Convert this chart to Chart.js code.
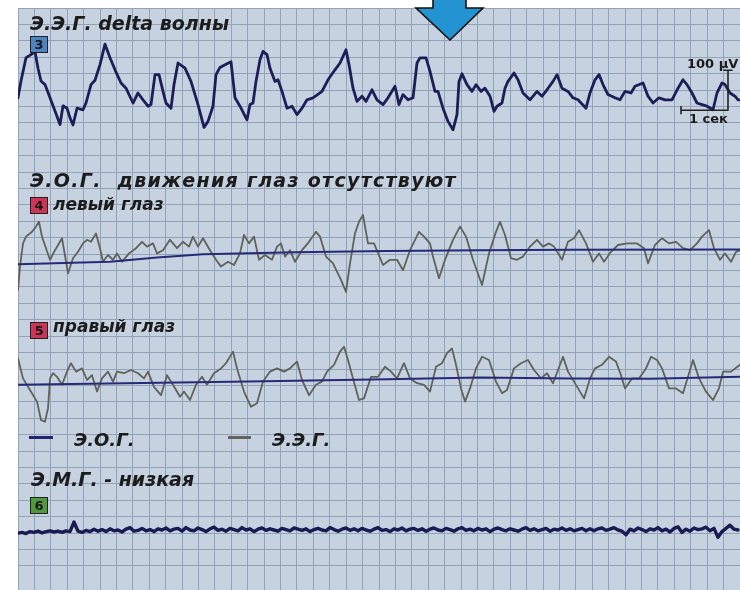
<!DOCTYPE html>
<html>
<head>
<meta charset="utf-8">
<script src="https://cdn.jsdelivr.net/npm/chart.js@4.4.1/dist/chart.umd.min.js"></script>
<style>
  html, body { margin: 0; padding: 0; background: #fff; }
  #wrap { position: relative; width: 740px; height: 590px; overflow: hidden; }
  #wrap canvas { position: absolute; left: 0; top: 0; }
  .lbl { position: absolute; font-family: "DejaVu Sans", sans-serif; font-weight: bold; font-style: italic;
         color: #1c1c1c; white-space: pre; line-height: 1; }
  .h { font-size: 19px; }
  .l { font-size: 18px; }
  .s { font-size: 17px; }
  .box { position: absolute; width: 16px; height: 15px; border: 1px solid #222; text-align: center;
         font: bold 13px "DejaVu Sans", sans-serif; line-height: 15px; color: #1a1a1a; }
  .sw { position: absolute; height: 3px; }
  .sc { position: absolute; font: bold 13px "DejaVu Sans", sans-serif; color: #1c1c1c; line-height: 1; white-space: pre; }
</style>
</head>
<body>
<div id="wrap">
  <canvas id="eeg" width="740" height="590"></canvas>

  <div class="lbl h" style="left:30px; top:14px">Э.Э.Г. delta волны</div>
  <div class="box" style="left:30px; top:36px; background:#4d84c4">3</div>

  <div class="lbl h" style="left:30px; top:171px; letter-spacing:1.3px">Э.О.Г.  движения глаз отсутствуют</div>
  <div class="box" style="left:30px; top:197px; background:#cc3555">4</div>
  <div class="lbl s" style="left:53px; top:196px">левый глаз</div>

  <div class="box" style="left:30px; top:322px; background:#cc3555">5</div>
  <div class="lbl s" style="left:53px; top:318px">правый глаз</div>

  <div class="sw" style="left:29px; top:436px; width:24px; background:#22256e"></div>
  <div class="lbl l" style="left:74px; top:431px">Э.О.Г.</div>
  <div class="sw" style="left:228px; top:436px; width:23px; background:#60645c"></div>
  <div class="lbl l" style="left:272px; top:431px">Э.Э.Г.</div>

  <div class="lbl h" style="left:31px; top:470px">Э.М.Г. - низкая</div>
  <div class="box" style="left:30px; top:497px; background:#4e9a3c">6</div>

  <div class="sc" style="left:687px; top:57px">100 µV</div>
  <div class="sc" style="left:689px; top:112px">1 сек</div>
</div>

<script>
// отсчёты при 47 Гц по оси X, мкВ по оси Y
const RATE = 47;
const TOTAL_N = 722;

// Э.Э.Г. (канал 3)
const eegT = [0,3,8,13,17, 20,23,27,32,37, 42,45,49,52,55, 59,65,68,73,77, 82,87,92,97,103,
  108,115,120,125,130, 133,137,141,145,148, 153,156,160,167,173, 180,186,190,195,198,
  202,208,213,217,222, 229,232,235,238,242, 245,249,252,257,260, 264,269,274,279,284,
  289,295,304,310,317, 322,328,331,335,339, 344,348,354,359,365, 370,377,381,385,390,
  395,399,402,408,412, 417,420,425,430,435, 439,441,444,449,454, 458,463,467,472,476,
  479,484,487,490,496, 500,505,512,519,524, 529,535,539,544,550, 555,560,568,572,577,
  581,585,590,597,602, 607,613,617,625,630, 635,641,647,654,660, 665,669,674,679,684,
  689,695,699,704,707, 712,717,720,722];
const eegV = [-12,30,88,96,104, 62,30,21,-12,-45, -79,-32,-38,-62,-80, -38,-42,-25,21,32, 71,122,88,58,25,
  12,-25,0,-17,-33, -29,46,46,4,-25, -38,21,75,62,29, -29,-86,-71,-33,46,
  64,72,78,-12,-33, -67,-29,-25,29,83, 104,96,62,29,33, 4,-38,-33,-54,-38,
  -17,-12,4,33,58, 75,108,71,12,-21, -8,-21,8,-17,-29, -12,17,-29,-4,-17,
  -12,75,88,88,54, 4,4,-38,-71,-92, -54,29,48,21,4, 21,4,12,-8,-46,
  -33,-25,12,29,50, 33,0,-17,4,-8, 8,29,46,12,4, -12,-17,-38,0,33,
  46,21,-4,-12,-17, 4,0,17,25,-8, -25,-12,-17,-17,12, 33,21,0,-25,-29,
  -33,-42,0,25,21, 0,-8,-17,-17];

// Э.О.Г. левый глаз (канал 4)
const eogLT = [0,2,5,8,14,18,21,24,28,32, 37,44,50,55,60,65,69,73,78,82,
  85,90,95,99,104,111,118,124,129,135, 139,145,152,159,165,171,175,180,185,192,
  198,203,210,216,222,226,231,236,241,247, 254,259,263,267,272,277,284,291,298,302,
  308,315,323,328,332,337,341,345,350,356, 365,372,379,385,392,401,406,412,415,421,
  427,435,442,448,455,464,471,478,482,487, 493,499,505,512,519,525,531,536,544,550,
  556,561,568,575,581,586,593,600,609,619, 626,630,637,644,651,658,665,672,679,684,
  691,696,702,707,713,718,722];
const eogLV = [-88,-29,29,46,58,71,83,46,17,-12, 12,42,-46,-8,8,29,38,33,54,17,
  -17,0,-12,4,-17,4,17,33,21,29, 4,12,38,17,33,21,46,21,42,12,
  -12,-29,-17,-25,4,50,29,46,-12,0, -12,21,29,-4,12,-17,12,33,58,46,
  -4,-21,-62,-92,-21,54,83,100,29,29, -25,-12,-12,-38,12,58,46,29,-4,-58,
  -12,38,71,46,-12,-75,4,58,83,50, -8,-12,-4,21,38,21,29,21,-12,33,
  42,62,29,-17,4,-17,8,25,29,29, 17,-21,25,42,29,33,17,12,29,46,
  62,17,-12,4,-17,8,12];
const eogLBaseT = [0,92,139,185,277,369,462,554,722];
const eogLBaseV = [-23,-17,-6,2,7,10,12,13,14];

// Э.О.Г. правый глаз (канал 5)
const eogRT = [0,5,12,19,23,27,30,32,35,39, 44,49,53,58,64,69,74,79,84,90,
  95,99,106,113,120,126,130,136,143,149, 155,162,166,172,178,184,189,196,203,208,
  215,219,226,233,239,245,252,259,266,272, 279,284,291,298,304,309,316,322,326,330,
  335,341,346,353,360,367,373,379,386,392, 399,406,412,418,424,429,434,438,443,447,
  452,458,464,471,478,484,489,496,503,510, 516,523,529,535,540,545,550,556,566,572,
  577,584,591,598,603,607,614,621,628,633, 639,644,651,658,665,670,675,681,688,695,
  701,705,713,722];
const eogRV = [54,4,-25,-54,-100,-104,-71,4,17,8, -12,21,42,21,29,0,12,-29,4,21,
  -4,21,17,25,17,4,21,-17,-38,12, -12,-42,-29,-50,-12,8,-12,17,29,42,
  71,29,-29,-67,-58,-4,21,29,21,29, 46,0,-38,-12,-4,21,38,71,83,50,
  4,-50,-46,8,8,33,21,4,42,4, -8,-12,-29,33,42,67,79,38,-21,-54,
  -21,29,58,50,-4,-33,-25,29,42,50, 25,4,17,-8,25,58,21,-4,-46,4,
  29,38,58,46,12,-21,4,4,29,58, 50,29,-21,-21,-33,8,50,4,-29,-50,
  -21,21,21,38];
const eogRBaseT = [0,231,369,462,554,632,722];
const eogRBaseV = [-12,-4,2,6,4,3,8];

// Э.М.Г. (канал 6), шаг 4 отсчёта
const EMG_STEP = 4;
const emgV = [-8,-6,-9,-4,-6,-3,-7,-4,-2,-5, -3,-6,-2,-4,20,-3,-6,-1,-4,2,
  -3,1,-4,3,-2,0,-5,2,6,-3, -1,4,-2,1,-4,3,0,5,-2,2,
  4,-3,6,0,-2,5,1,-4,3,7, -1,2,-3,4,1,-2,6,0,3,-4,
  2,5,-1,3,0,-3,4,1,-2,5, 2,-1,3,-4,1,4,0,-2,6,1,
  -3,2,5,-1,3,-2,4,0,-3,2, 6,-1,1,-4,3,0,5,-2,2,4,
  -1,3,-3,2,5,0,-2,4,1,-3, 3,6,-1,2,-2,4,0,3,-4,2,
  5,1,-2,3,0,-3,2,6,-1,3, -2,1,4,-3,2,0,5,-1,3,-2,
  1,4,-2,3,-2,3,5,-1,2,6, 0,-3,-12,2,-2,5,1,-4,3,0,
  6,-2,2,-5,4,8,-6,2,-3,5, 1,3,7,-2,4,-18,-4,4,12,2,0];

// масштаб: 1 сек, 100 мкВ
const SCALE_SEC = 1;
const SCALE_UV = 100;

// раскладка каналов на общей оси (мкВ от верхнего края)
const UV_PER_PX = 2.5;
const Y_MIN = -582 * UV_PER_PX;
const OFF_EEG = -212.5, OFF_EOGL = -617.5, OFF_EOGR = -930, OFF_EMG = -1305;
const SCALE_AT = { t: 663, v: -43 };
const ARROW_AT = 432;
const GRID_COLS = 44;
const GRID_ROWS = 582 / (722 / GRID_COLS);

const NAVY = '#1c1e58';
const GRAY = '#5e625a';
const GRID = '#92a2b8';

function pts(ts, vs, off) {
  return ts.map((t, i) => ({ x: t, y: vs[i] + off }));
}

const emgPts = emgV.map((v, i) => ({ x: Math.min(i * EMG_STEP, TOTAL_N), y: v + OFF_EMG }));

const sT = SCALE_AT.t, sV = SCALE_AT.v + OFF_EEG, sW = SCALE_SEC * RATE, sH = SCALE_UV;
const scalePts = [
  { x: sT, y: sV - 9 }, { x: sT, y: sV + 9 }, { x: sT, y: null },
  { x: sT, y: sV }, { x: sT + sW, y: sV }, { x: sT + sW, y: sV + sH }, { x: sT + sW, y: null },
  { x: sT + sW - 4, y: sV + sH }, { x: sT + sW + 4, y: sV + sH },
];

const line = (data, color, width, order) => ({
  data, borderColor: color, borderWidth: width, pointRadius: 0, tension: 0,
  fill: false, order, spanGaps: false, borderJoinStyle: 'round', borderCapStyle: 'round',
});

const bgPlugin = {
  id: 'bg',
  beforeDraw(chart) {
    const { ctx, chartArea: a } = chart;
    ctx.save();
    ctx.fillStyle = '#c6d2df';
    ctx.fillRect(a.left, a.top, a.right - a.left, a.bottom - a.top);
    ctx.restore();
  }
};

const arrowPlugin = {
  id: 'arrow',
  afterDraw(chart) {
    const ctx = chart.ctx;
    const cx = chart.scales.x.getPixelForValue(ARROW_AT);
    ctx.save();
    ctx.beginPath();
    ctx.moveTo(cx - 17, -2);
    ctx.lineTo(cx + 16, -2);
    ctx.lineTo(cx + 16, 8);
    ctx.lineTo(cx + 33, 8);
    ctx.lineTo(cx, 40);
    ctx.lineTo(cx - 34, 8);
    ctx.lineTo(cx - 17, 8);
    ctx.closePath();
    ctx.fillStyle = '#2393d1';
    ctx.fill();
    ctx.lineWidth = 1.6;
    ctx.strokeStyle = '#111';
    ctx.stroke();
    ctx.restore();
  }
};

new Chart(document.getElementById('eeg'), {
  type: 'line',
  data: {
    datasets: [
      line(pts(eegT, eegV, OFF_EEG), NAVY, 2.8, 1),
      line(pts(eogLBaseT, eogLBaseV, OFF_EOGL), '#262a78', 2, 0),
      line(pts(eogLT, eogLV, OFF_EOGL), GRAY, 1.8, 2),
      line(pts(eogRBaseT, eogRBaseV, OFF_EOGR), '#262a78', 2, 0),
      line(pts(eogRT, eogRV, OFF_EOGR), GRAY, 1.8, 2),
      line(emgPts, '#1a1b52', 3.4, 1),
      line(scalePts, '#222', 1.6, 0),
    ],
  },
  options: {
    responsive: false,
    animation: false,
    events: [],
    layout: { padding: { left: 18, top: 8, right: 0, bottom: 0 } },
    plugins: { legend: { display: false }, tooltip: { enabled: false } },
    scales: {
      x: { type: 'linear', min: 0, max: TOTAL_N, display: false },
      y: { type: 'linear', min: Y_MIN, max: 0, display: false },
      gx: {
        type: 'linear', axis: 'x', position: 'bottom', min: 0, max: GRID_COLS,
        ticks: { display: false, stepSize: 1 },
        grid: { color: GRID, lineWidth: 1, drawTicks: false },
        border: { display: false },
      },
      gy: {
        type: 'linear', axis: 'y', position: 'left', reverse: true, min: 0, max: GRID_ROWS,
        ticks: { display: false, stepSize: 1 },
        grid: { color: GRID, lineWidth: 1, drawTicks: false },
        border: { display: false },
      },
    },
  },
  plugins: [bgPlugin, arrowPlugin],
});
</script>
</body>
</html>
